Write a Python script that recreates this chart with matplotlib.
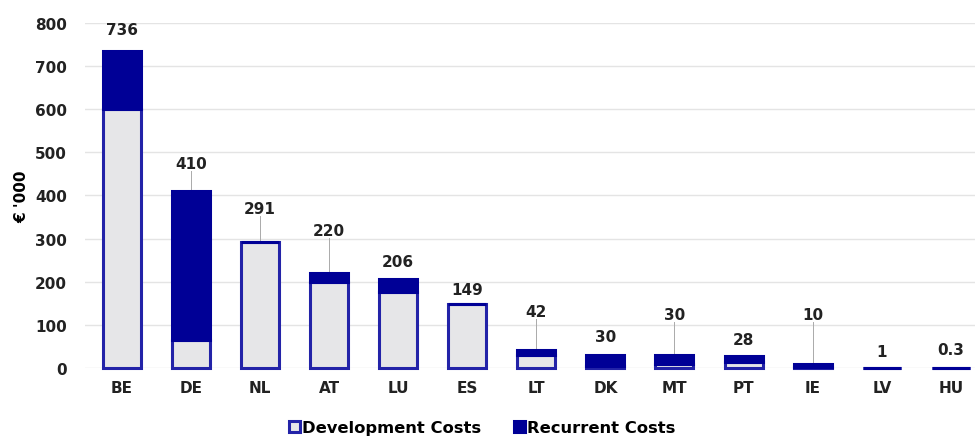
import numpy as np
import matplotlib.pyplot as plt

countries = ['BE', 'DE', 'NL', 'AT', 'LU', 'ES', 'LT', 'DK', 'MT', 'PT', 'IE', 'LV', 'HU']
development = [600, 65, 291, 200, 175, 149, 30, 5, 10, 15, 2, 1, 0.3]
recurrent = [136, 345, 0, 20, 31, 0, 12, 25, 20, 13, 8, 0, 0]
totals = ['736', '410', '291', '220', '206', '149', '42', '30', '30', '28', '10', '1', '0.3']

# where the value labels sit (data units) and whether a leader line is drawn
label_y = [784, 473, 369, 318, 248, 183, 130, 72, 123, 67, 123, 39, 44]
leader = [False, True, True, True, False, False, True, False, True, False, True, False, False]

navy = '#000096'
edge = '#2323a8'
light = '#e6e6e8'

fig = plt.figure(figsize=(9.78, 4.39), dpi=100)
ax = fig.add_axes([0.087, 0.1595, 0.91, 0.786])

x = np.arange(len(countries))
w = 0.55
dev = np.array(development)
rec = np.array(recurrent)

ax.bar(x, dev, w, color=light, edgecolor=edge, linewidth=2.2, zorder=3,
       label='Development Costs', clip_on=False)
ax.bar(x, rec, w, bottom=dev, color=navy, edgecolor=navy, linewidth=2.2, zorder=3,
       label='Recurrent Costs', clip_on=False)

fs = 11
for i in range(len(countries)):
    top = dev[i] + rec[i]
    ax.text(x[i], label_y[i], totals[i], ha='center', va='center', fontsize=fs,
            fontweight='bold', color='#222222')
    if leader[i]:
        ax.plot([x[i], x[i]], [label_y[i] - 16, top + 2], color='#aaaaaa', lw=0.7, zorder=2)

ax.set_ylim(0, 800)
ax.set_xlim(-0.53, 12.35)
ax.set_yticks(range(0, 801, 100))
ax.set_xticks(x)
ax.set_xticklabels(countries)
ax.yaxis.grid(True, color='#e4e4e4', lw=1, zorder=0)
ax.set_axisbelow(True)
for s in ax.spines.values():
    s.set_visible(False)
ax.tick_params(length=0, labelsize=fs, colors='#222222')
ax.tick_params(axis='x', pad=9)
ax.tick_params(axis='y', pad=13)
for lab in ax.get_xticklabels() + ax.get_yticklabels():
    lab.set_fontweight('bold')
ax.set_ylabel("€ '000", fontsize=fs, fontweight='bold', labelpad=4)

leg = fig.legend(loc='lower center', bbox_to_anchor=(0.493, -0.027), ncol=2, frameon=False,
                 fontsize=11.8, handlelength=0.65, handleheight=0.65, handletextpad=0.15,
                 columnspacing=2.0)
for t in leg.get_texts():
    t.set_fontweight('bold')

fig.savefig('out.png', dpi=100)
